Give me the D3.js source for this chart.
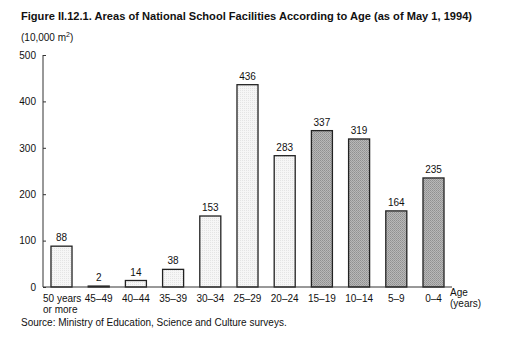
<!DOCTYPE html>
<html><head><meta charset="utf-8">
<script src="https://cdn.jsdelivr.net/npm/d3@7"></script>
<style>
html,body{margin:0;padding:0;background:#fff;}
text{font-family:"Liberation Sans",Arial,sans-serif;fill:#111;}
</style></head>
<body>
<script>
const categories = ["50 years", "45–49", "40–44", "35–39", "30–34", "25–29", "20–24", "15–19", "10–14", "5–9", "0–4"];
const values = [88, 2, 14, 38, 153, 436, 283, 337, 319, 164, 235];
const groups = ["old","old","old","old","old","old","old","new","new","new","new"];
const yTicks = [0, 100, 200, 300, 400, 500];

const W = 512, H = 358;
const svg = d3.select("body").append("svg").attr("width", W).attr("height", H);

const defs = svg.append("defs");
const p1 = defs.append("pattern").attr("id","light").attr("width",2).attr("height",2).attr("patternUnits","userSpaceOnUse");
p1.append("rect").attr("width",2).attr("height",2).attr("fill","#f6f6f6");
p1.append("rect").attr("width",1).attr("height",1).attr("fill","#e4e4e4");
const p2 = defs.append("pattern").attr("id","dark").attr("width",2).attr("height",2).attr("patternUnits","userSpaceOnUse");
p2.append("rect").attr("width",2).attr("height",2).attr("fill","#b8b8b8");
p2.append("rect").attr("width",1).attr("height",1).attr("fill","#909090");
p2.append("rect").attr("x",1).attr("y",1).attr("width",1).attr("height",1).attr("fill","#9c9c9c");

const x = d3.scaleBand().domain(categories).range([42.9, 452.1]).paddingInner(0.435).paddingOuter(0.2175);
const y = d3.scaleLinear().domain([0, 500]).range([287, 55]);

// title
svg.append("text").attr("x", 21).attr("y", 20).attr("font-size", 10.5).attr("font-weight", "bold")
  .attr("textLength", 451).attr("lengthAdjust","spacingAndGlyphs")
  .text("Figure II.12.1. Areas of National School Facilities According to Age (as of May 1, 1994)");
const unit = svg.append("text").attr("x", 21).attr("y", 41).attr("font-size", 10);
unit.append("tspan").text("(10,000 m");
unit.append("tspan").attr("dy", -4).attr("font-size", 7).text("2");
unit.append("tspan").attr("dy", 4).text(")");

// bars
svg.append("g").selectAll("rect").data(values).join("rect")
  .attr("x", (d,i) => x(categories[i]))
  .attr("y", d => y(d))
  .attr("width", x.bandwidth())
  .attr("height", d => y(0) - y(d))
  .attr("fill", (d,i) => groups[i] === "old" ? "url(#light)" : "url(#dark)")
  .attr("stroke", "#222").attr("stroke-width", 1.3);

// value labels
svg.append("g").selectAll("text").data(values).join("text")
  .attr("x", (d,i) => x(categories[i]) + x.bandwidth()/2)
  .attr("y", d => y(d) - 5)
  .attr("text-anchor", "middle").attr("font-size", 10)
  .text(d => d);

// y axis
const yAxis = d3.axisLeft(y).tickValues(yTicks).tickSize(-3).tickPadding(7).tickFormat(d3.format("d"));
const gy = svg.append("g").attr("transform", "translate(43,0)").call(yAxis);
gy.select(".domain").remove();
gy.append("line").attr("x1",0).attr("x2",0).attr("y1",y(500)).attr("y2",y(0)).attr("stroke","#333");
gy.selectAll(".tick line").attr("stroke","#333");
gy.selectAll(".tick text").attr("font-size", 10).attr("font-family", "Liberation Sans, Arial, sans-serif").attr("fill","#111");

// x axis
const xAxis = d3.axisBottom(x).tickSize(0).tickPadding(8);
const gx = svg.append("g").attr("transform", `translate(0,${y(0)})`).call(xAxis);
gx.select(".domain").remove();
gx.append("line").attr("x1",43).attr("x2",452).attr("y1",0).attr("y2",0).attr("stroke","#333");
gx.selectAll(".tick text").attr("font-size", 10).attr("font-family", "Liberation Sans, Arial, sans-serif").attr("fill","#111")
  .attr("dy", "0.71em");
gx.selectAll(".tick text").filter(d => d === categories[0])
  .attr("text-anchor","start").attr("x", -18.5)
  .each(function(){ d3.select(this).append("tspan").attr("x",-18.5).attr("dy","1.1em").text("or more"); });

svg.append("text").attr("x", 450).attr("y", 296).attr("font-size", 10).text("Age");
svg.append("text").attr("x", 450).attr("y", 307).attr("font-size", 10).text("(years)");

svg.append("text").attr("x", 21).attr("y", 326).attr("font-size", 10)
  .text("Source: Ministry of Education, Science and Culture surveys.");
</script>
</body></html>
